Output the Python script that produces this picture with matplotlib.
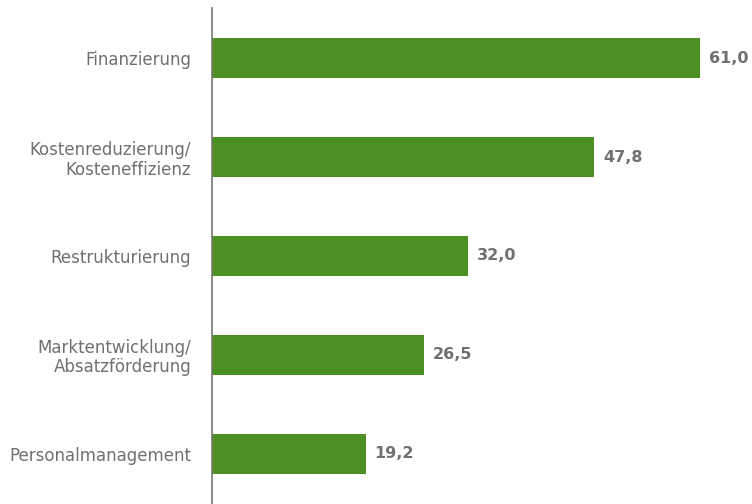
import matplotlib.pyplot as plt

categories = ["Finanzierung", "Kostenreduzierung/\nKosteneffizienz", "Restrukturierung",
              "Marktentwicklung/\nAbsatzförderung", "Personalmanagement"]
values = [61.0, 47.8, 32.0, 26.5, 19.2]

GREEN = "#4c8f22"
GREY = "#707070"

fig = plt.figure(figsize=(7.52, 5.04), dpi=100)
ax = fig.add_axes([212 / 752, 0, 540 / 752, 496 / 504])

ypos = list(range(len(categories)))
ax.barh(ypos, values, height=0.405, color=GREEN, zorder=2)

for y, v in zip(ypos, values):
    ax.text(v + 1.1, y, f"{v:.1f}".replace(".", ","), va="center", ha="left",
            fontsize=11.5, fontweight="bold", color=GREY)

ax.set_yticks(ypos)
ax.set_yticklabels(categories, fontsize=12, color=GREY, linespacing=1.1)
ax.tick_params(axis="y", length=0, pad=15)
ax.set_xticks([])
ax.set_xlim(0, 67.5)
ax.set_ylim(4.51, -0.51)

for s in ["top", "right", "bottom"]:
    ax.spines[s].set_visible(False)
ax.spines["left"].set_color("#777777")
ax.spines["left"].set_linewidth(1.2)

fig.savefig("out.png", dpi=100)
